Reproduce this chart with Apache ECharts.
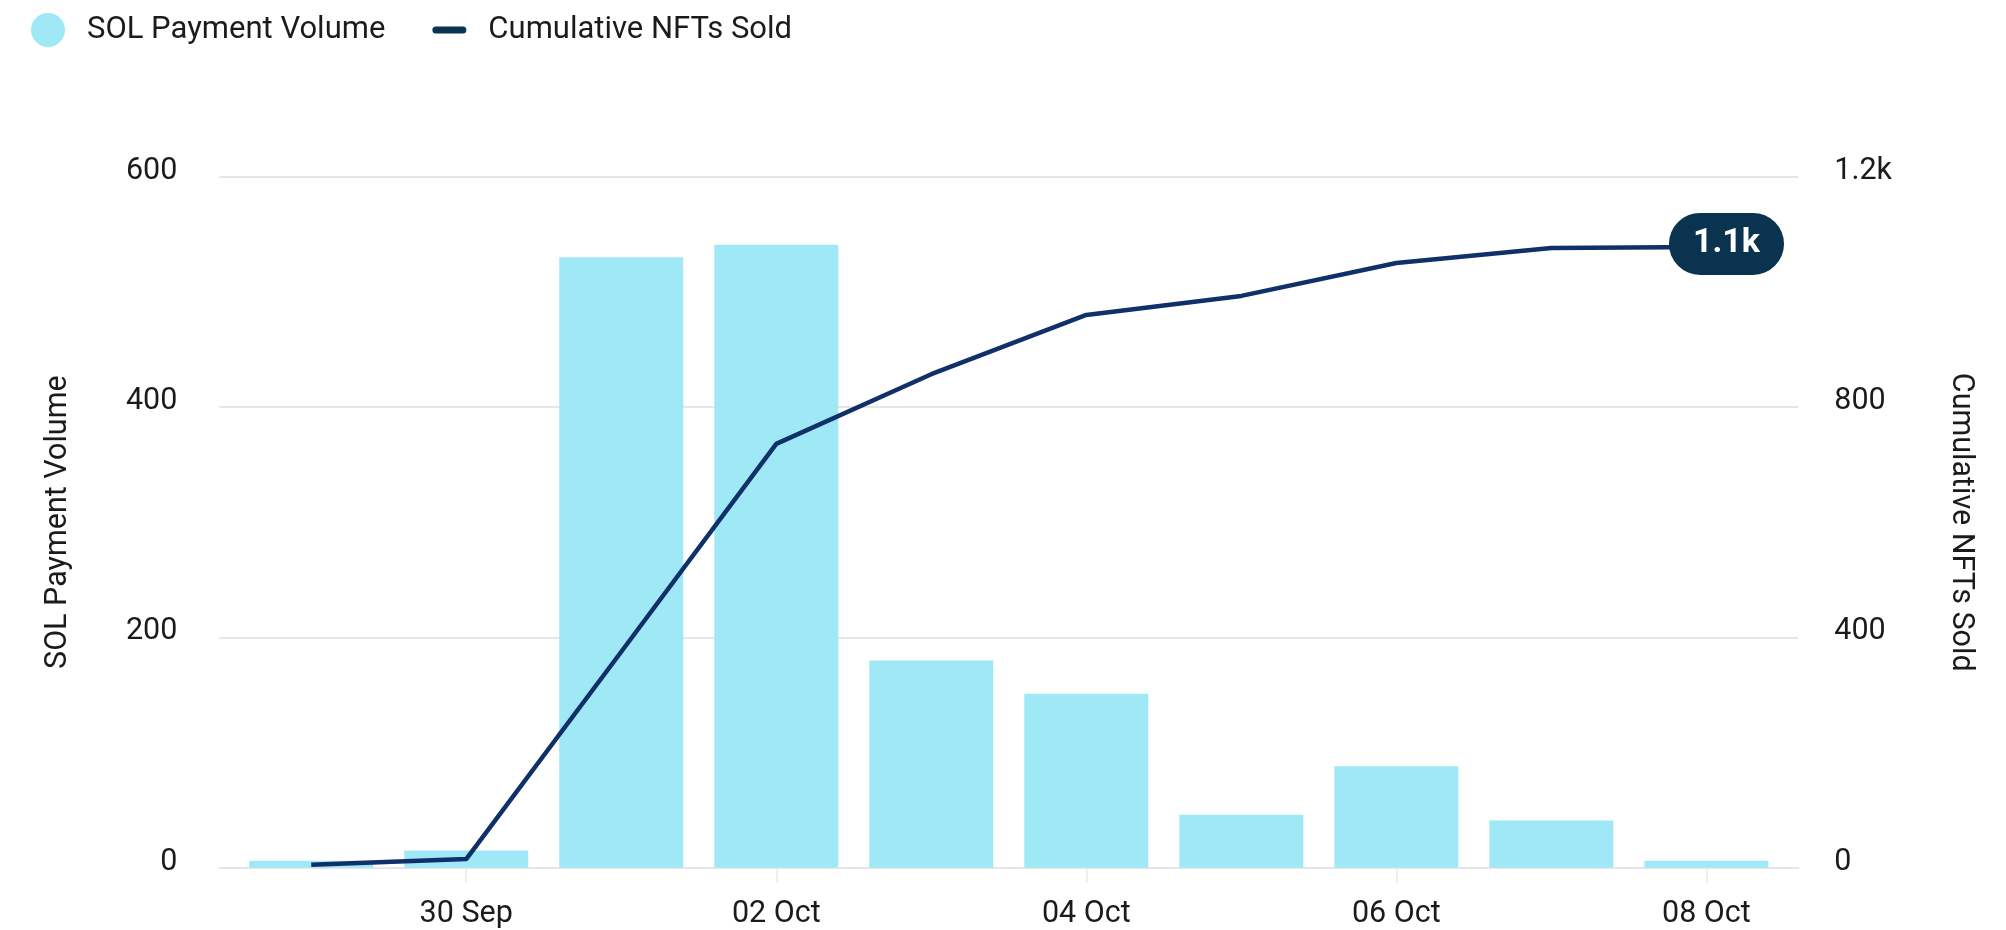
<!DOCTYPE html>
<html>
<head>
<meta charset="utf-8">
<title>SOL Payment Volume / Cumulative NFTs Sold</title>
<script src="https://cdn.jsdelivr.net/npm/echarts@6.0.0/dist/echarts.min.js"></script>
<style>
  html, body { margin: 0; padding: 0; background: #fff; }
  #chart { width: 2006px; height: 930px; }
</style>
</head>
<body>
<div id="chart"></div>
<script>
// 数据
const days = ['29 Sep', '30 Sep', '01 Oct', '02 Oct', '03 Oct', '04 Oct', '05 Oct', '06 Oct', '07 Oct', '08 Oct'];
const solVolume = [6, 15, 530, 541, 180, 151, 46, 88, 41, 6];
const nftsSold = [5, 15, 375, 736, 857, 960, 993, 1050, 1076, 1078];
const dayLabels = ['30 Sep', '02 Oct', '04 Oct', '06 Oct', '08 Oct'];
const volumeTicks = [0, 200, 400, 600];
const soldTicks = [0, 400, 800, 1200];

const font = 'Roboto';
const textColor = '#1b1b1b';
const gridColor = '#e6e6e6';
const barColor = '#9fe9f7';
const lineColor = '#10306a';
const badgeColor = '#0a3350';

// x轴标签位置 (按类目下标)
const labelIdx = dayLabels.map(d => days.indexOf(d));

const option = {
    animation: false,
    textStyle: { fontFamily: font },
    legend: {
        left: 31,
        top: 13,
        padding: 0,
        itemWidth: 34,
        itemHeight: 34,
        itemGap: 47,
        textStyle: { fontSize: 31, color: textColor, padding: [0, 0, 0, 17] },
        data: [
            { name: 'SOL Payment Volume', icon: 'circle' },
            {
                name: 'Cumulative NFTs Sold',
                icon: 'path://M3.5,0H30.5A3.5,3.5,0,0,1,30.5,7H3.5A3.5,3.5,0,0,1,3.5,0Z',
                itemStyle: { color: badgeColor }
            }
        ]
    },
    grid: {
        left: 219.3,
        right: 207.7,
        top: 176.7,
        bottom: 62.3,
        containLabel: false,
        outerBoundsMode: 'none'
    },
    xAxis: {
        type: 'value',
        min: -0.593,
        max: days.length - 1 + 0.593,
        splitLine: { show: false },
        axisLine: { show: true, lineStyle: { color: gridColor, width: 2 } },
        axisTick: {
            show: true,
            customValues: labelIdx,
            length: 15,
            lineStyle: { color: '#e9e9e9', width: 1.5 }
        },
        axisLabel: {
            customValues: labelIdx,
            formatter: v => days[Math.round(v)],
            fontSize: 30.5,
            color: textColor,
            margin: 31.5
        }
    },
    yAxis: [
        {
            type: 'value',
            position: 'left',
            min: volumeTicks[0],
            max: volumeTicks[volumeTicks.length - 1],
            interval: volumeTicks[1] - volumeTicks[0],
            name: 'SOL Payment Volume',
            nameLocation: 'middle',
            nameGap: 145,
            nameTextStyle: { fontSize: 30.5, color: textColor },
            axisLine: { show: false },
            axisTick: { show: false },
            axisLabel: { fontSize: 30.5, color: textColor, margin: 42, verticalAlign: 'bottom', lineHeight: 11 },
            splitLine: { show: true, lineStyle: { color: gridColor, width: 2 } }
        },
        {
            type: 'value',
            position: 'right',
            min: soldTicks[0],
            max: soldTicks[soldTicks.length - 1],
            interval: soldTicks[1] - soldTicks[0],
            name: 'Cumulative NFTs Sold',
            nameLocation: 'middle',
            nameRotate: -90,
            nameGap: 147,
            nameTextStyle: { fontSize: 30.5, color: textColor },
            axisLine: { show: false },
            axisTick: { show: false },
            axisLabel: {
                fontSize: 30.5,
                color: textColor,
                margin: 36,
                verticalAlign: 'bottom',
                lineHeight: 11,
                formatter: v => (v >= 1000 ? (v / 1000) + 'k' : String(v))
            },
            splitLine: { show: false }
        }
    ],
    series: [
        {
            name: 'SOL Payment Volume',
            type: 'bar',
            barWidth: 124,
            data: days.map((d, i) => [i, solVolume[i]]),
            itemStyle: { color: barColor }
        },
        {
            name: 'Cumulative NFTs Sold',
            type: 'line',
            yAxisIndex: 1,
            showSymbol: false,
            data: days.map((d, i) => [i, nftsSold[i]]),
            lineStyle: { width: 4.5, color: lineColor },
            itemStyle: { color: lineColor },
            endLabel: {
                show: true,
                distance: 0,
                offset: [-37.4, -3],
                formatter: p => (p.value[1] / 1000).toFixed(1) + 'k',
                backgroundColor: badgeColor,
                borderRadius: 31,
                padding: [14, 24],
                color: '#fff',
                fontSize: 34,
                fontWeight: 'bold',
                lineHeight: 34
            }
        }
    ]
};

const chart = echarts.init(document.getElementById('chart'));
chart.setOption(option);
</script>
</body>
</html>
